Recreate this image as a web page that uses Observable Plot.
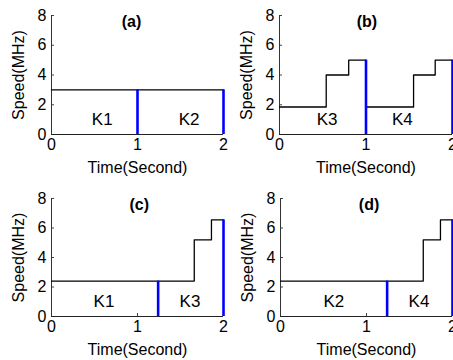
<!DOCTYPE html>
<html>
<head>
<meta charset="utf-8">
<script src="https://cdn.jsdelivr.net/npm/d3@7"></script>
<script src="https://cdn.jsdelivr.net/npm/@observablehq/plot@0.6"></script>
<style>
  html, body { margin: 0; padding: 0; background: #fff; }
  #wrap { position: relative; width: 453px; height: 360px; overflow: hidden; font-family: "Liberation Sans", Arial, Helvetica, sans-serif; }
  #wrap svg { position: absolute; }
</style>
</head>
<body>
<div id="wrap"></div>
<script>
// ---- data ----
const panelTitles = ["(a)", "(b)", "(c)", "(d)"];
const titleX = [0.93, 1.01, 1.02, 1.03];
const titleY = 7.6;

const timeA = [0, 2];
const speedA = [3, 3];
const timeB = [0, 0.54, 0.8, 1, 1.55, 1.8, 2];
const speedB = [1.85, 4, 5, 1.85, 4, 5, 5];
const timeC = [0, 1.66, 1.86, 2];
const speedC = [2.4, 5.2, 6.55, 6.55];
const timeD = [0, 1.66, 1.86, 2];
const speedD = [2.4, 5.2, 6.55, 6.55];

const boundA = [1, 2], boundHA = [3, 3];
const boundB = [1, 2], boundHB = [5, 5];
const boundC = [1.24, 2], boundHC = [2.4, 6.55];
const boundD = [1.24, 2], boundHD = [2.4, 6.55];

const labelsA = ["K1", "K2"], labelXA = [0.59, 1.6];
const labelsB = ["K3", "K4"], labelXB = [0.55, 1.42];
const labelsC = ["K1", "K3"], labelXC = [0.61, 1.61];
const labelsD = ["K2", "K4"], labelXD = [0.62, 1.61];
const labelY = 1.0;

const xTicks = [0, 1, 2];
const yTicks = [0, 2, 4, 6, 8];
const xLabel = "Time(Second)";
const yLabel = "Speed(MHz)";

// ---- layout ----
const layout = [
  {left: 0,   top: 0,   width: 226, ml: 51, mr: 3, mt: 15, mb: 46},
  {left: 226, top: 0,   width: 227, ml: 53, mr: 1, mt: 15, mb: 46},
  {left: 0,   top: 180, width: 226, ml: 51, mr: 3, mt: 18, mb: 44},
  {left: 226, top: 180, width: 227, ml: 54, mr: 1, mt: 18, mb: 44}
];

const series = [
  {t: timeA, s: speedA, b: boundA, bh: boundHA, l: labelsA, lx: labelXA},
  {t: timeB, s: speedB, b: boundB, bh: boundHB, l: labelsB, lx: labelXB},
  {t: timeC, s: speedC, b: boundC, bh: boundHC, l: labelsC, lx: labelXC},
  {t: timeD, s: speedD, b: boundD, bh: boundHD, l: labelsD, lx: labelXD}
];

const wrap = document.getElementById("wrap");
series.forEach((d, i) => {
  const L = layout[i];
  const plotW = L.width - L.ml - L.mr;
  const plotH = 180 - L.mt - L.mb;
  const pts = d.t.map((t, j) => ({t, s: d.s[j]}));
  const bounds = d.b.map((x, j) => ({x, h: d.bh[j]}));
  const labs = d.l.map((name, j) => ({name, x: d.lx[j], y: labelY}));
  const chart = Plot.plot({
    width: L.width,
    height: 180,
    marginLeft: L.ml, marginRight: L.mr, marginTop: L.mt, marginBottom: L.mb,
    style: {background: "transparent", overflow: "visible", fontFamily: "Liberation Sans, Arial, sans-serif", fontSize: "16px", color: "#000"},
    x: {domain: [0, 2], label: null},
    y: {domain: [0, 8], label: null},
    marks: [
      Plot.axisX({ticks: xTicks, tickSize: 0, tickPadding: 4, tickFormat: v => String(v), fontSize: 16, label: null}),
      Plot.axisY({ticks: yTicks, tickSize: 0, tickPadding: 5, tickFormat: v => String(v), fontSize: 16, label: null}),
      Plot.tickY(yTicks, {y: v => v, insetRight: plotW - 3, stroke: "#444", strokeWidth: 1}),
      Plot.tickX(xTicks, {x: v => v, insetTop: plotH - 3, stroke: "#444", strokeWidth: 1}),
      Plot.ruleY([0], {stroke: "#222", strokeWidth: 1}),
      Plot.ruleX([0], {stroke: "#333", strokeWidth: 1}),
      Plot.line(pts, {x: "t", y: "s", curve: "step-after", stroke: "#000", strokeWidth: 1.3}),
      Plot.ruleX(bounds, {x: "x", y1: 0, y2: "h", stroke: "#0000ff", strokeWidth: 2.6}),
      Plot.text(labs, {x: "x", y: "y", text: "name", fontSize: 17, fill: "#000"}),
      Plot.text([panelTitles[i]], {x: titleX[i], y: titleY, text: v => v, fontSize: 16, fontWeight: "bold", fill: "#000"}),
      Plot.text([xLabel], {frameAnchor: "bottom", dy: 33, textAnchor: "middle", lineAnchor: "middle", text: v => v, fontSize: 16, fill: "#000"}),
      Plot.text([yLabel], {frameAnchor: "left", dx: -33, rotate: -90, textAnchor: "middle", lineAnchor: "middle", text: v => v, fontSize: 16, fill: "#000"})
    ]
  });
  chart.style.left = L.left + "px";
  chart.style.top = L.top + "px";
  wrap.appendChild(chart);
});
</script>
</body>
</html>
